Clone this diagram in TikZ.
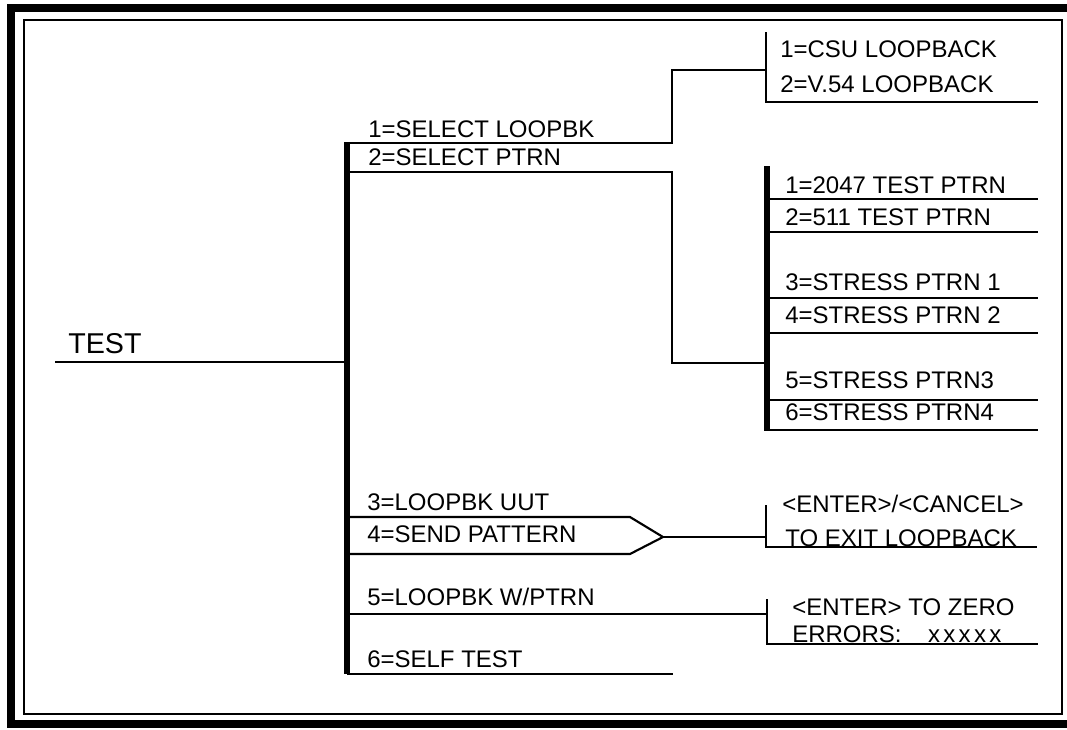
\documentclass[tikz,border=0pt]{standalone}
\usepackage{fontspec}
\setmainfont{Liberation Sans}
\usetikzlibrary{positioning}

\newcommand{\menufont}{\fontsize{18}{20}\selectfont}
\newcommand{\rootfont}{\fontsize{21.5}{24}\selectfont}

\begin{document}
\begin{tikzpicture}[x=0.75pt, y=-0.75pt,
    lbl/.style={anchor=base west, inner sep=0pt, font=\menufont},
    rule/.style={line width=1.6pt},
    bar/.style={line width=4.5pt},
    frame/.style={line width=6pt}
  ]
    \fill[white] (0,0) rectangle (1067,729);
    \useasboundingbox (0,0) rectangle (1067,729);
    % Frames
    \draw[frame] (1067,8) -- (11,8) -- (11,724) -- (1067,724);
    \draw[line width=1.4pt] (24,20) rectangle (1062,714);

    % Root
    \node[lbl, font=\rootfont] (test) at (68,353) {TEST};
    \coordinate (rootL) at (55,362);
    \coordinate (rootR) at (347,362);
    \draw[rule] (rootL) -- (rootR);

    % Main menu bar
    \coordinate (mtop) at (347,142);
    \coordinate (mbot) at (347,674);
    \draw[bar] (mtop) -- (mbot);

    % 1 = select loopback
    \node[lbl] (selloop) at (368,137) {1=SELECT LOOPBK};
    \coordinate (sl0) at (347,143);
    \coordinate (sl1) at (672,143);
    \coordinate (sl2) at (672,70);
    \coordinate (sl3) at (766,70);
    \draw[rule] (sl0) -- (sl1) -- (sl2) -- (sl3);

    % Loopback submenu
    \coordinate (lbtop) at (766,32);
    \coordinate (lbbot) at (766,102);
    \coordinate (lbend) at (1038,102);
    \draw[rule] (lbtop) -- (lbbot) -- (lbend);
    \node[lbl] (csu) at (780,57) {1=CSU LOOPBACK};
    \node[lbl] (v54) at (780,92) {2=V.54 LOOPBACK};

    % 2 = select pattern
    \node[lbl] (selptrn) at (368,165) {2=SELECT PTRN};
    \coordinate (sp0) at (347,172);
    \coordinate (sp1) at (672,172);
    \coordinate (sp2) at (672,363);
    \coordinate (sp3) at (767,363);
    \draw[rule] (sp0) -- (sp1) -- (sp2) -- (sp3);

    % Pattern submenu
    \coordinate (pbtop) at (767,166);
    \coordinate (pbbot) at (767,431);
    \draw[bar] (pbtop) -- (pbbot);
    \foreach \y in {199,232,298,333,400,430}
      \draw[rule] (767,\y) -- (1038,\y);
    \node[lbl] (p1) at (785,193) {1=2047 TEST PTRN};
    \node[lbl] (p2) at (785,225) {2=511 TEST PTRN};
    \node[lbl] (p3) at (785,290) {3=STRESS PTRN 1};
    \node[lbl] (p4) at (785,323) {4=STRESS PTRN 2};
    \node[lbl] (p5) at (785,388) {5=STRESS PTRN3};
    \node[lbl] (p6) at (785,420) {6=STRESS PTRN4};

    % 3 = loopback UUT, 4 = send pattern
    \node[lbl] (lpuut) at (367,510) {3=LOOPBK UUT};
    \node[lbl] (sendp) at (367,542) {4=SEND PATTERN};
    \coordinate (sd0) at (347,517);
    \coordinate (sd1) at (630,517);
    \coordinate (sdtip) at (663,537);
    \coordinate (sd2) at (630,554);
    \coordinate (sd3) at (347,554);
    \draw[rule] (sd0) -- (sd1) -- (sdtip) -- (sd2) -- (sd3);
    \coordinate (exin) at (766,537);
    \draw[rule] (sdtip) -- (exin);

    % Exit loopback prompt
    \coordinate (extop) at (766,505);
    \coordinate (exbot) at (766,547);
    \coordinate (exend) at (1037,547);
    \draw[rule] (extop) -- (exbot) -- (exend);
    \node[lbl] (enter1) at (782,512) {<ENTER>/<CANCEL>};
    \node[lbl] (exitlb) at (785,546) {TO EXIT LOOPBACK};

    % 5 = loopback with pattern
    \node[lbl] (lpw) at (367,605) {5=LOOPBK W/PTRN};
    \coordinate (lw0) at (347,614);
    \coordinate (lw1) at (767,614);
    \draw[rule] (lw0) -- (lw1);

    % Zero errors prompt
    \coordinate (zrtop) at (767,599);
    \coordinate (zrbot) at (767,644);
    \coordinate (zrend) at (1038,644);
    \draw[rule] (zrtop) -- (zrbot) -- (zrend);
    \node[lbl] (enter2) at (792,615) {<ENTER> TO ZERO};
    \node[lbl] (errs) at (792,642)
      {ERRORS:\hspace{1.1em}x\kern2.5pt x\kern2.5pt x\kern2.5pt x\kern2.5pt x};

    % 6 = self test
    \node[lbl] (selft) at (367,667) {6=SELF TEST};
    \coordinate (st0) at (347,674);
    \coordinate (st1) at (673,674);
    \draw[rule] (st0) -- (st1);
  \end{tikzpicture}
\end{document}
